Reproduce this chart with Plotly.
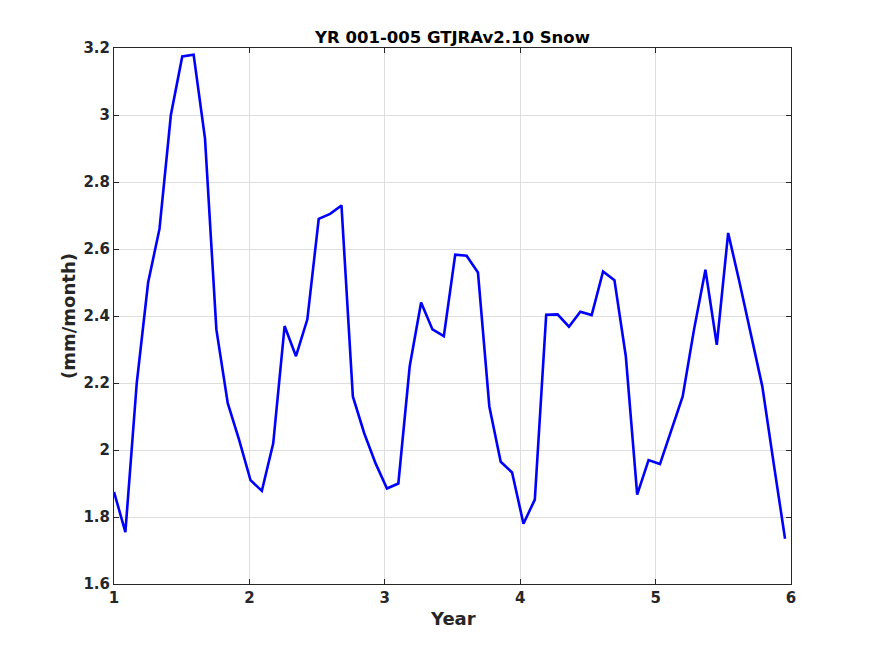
import plotly.graph_objects as go

# monthly snow for model years 1-5 (60 months)
months = list(range(60))
month_step = 0.084  # spacing in years between samples
years = [1 + m * month_step for m in months]

snow = [1.875, 1.755, 2.20, 2.50, 2.66, 3.00, 3.175, 3.18, 2.93, 2.36, 2.14, 2.03,
        1.91, 1.878, 2.02, 2.37, 2.28, 2.39, 2.69, 2.705, 2.73, 2.16, 2.05, 1.96,
        1.885, 1.90, 2.25, 2.44, 2.36, 2.34, 2.583, 2.58, 2.53, 2.13, 1.965, 1.933,
        1.78, 1.852, 2.404, 2.405, 2.368, 2.413, 2.403, 2.533, 2.507, 2.28, 1.867, 1.97,
        1.958, 2.06, 2.16, 2.36, 2.538, 2.314, 2.648, 2.50, 2.35, 2.19, 1.96, 1.735]

xticks = [1, 2, 3, 4, 5, 6]
xtick_text = ['1', '2', '3', '4', '5', '6']
yticks = [1.6, 1.8, 2.0, 2.2, 2.4, 2.6, 2.8, 3.0, 3.2]
ytick_text = ['1.6', '1.8', '2', '2.2', '2.4', '2.6', '2.8', '3', '3.2']

font_name = 'DejaVu Sans'
ink = '#262626'

fig = go.Figure()
fig.add_trace(go.Scatter(x=years, y=snow, mode='lines',
                         line=dict(color='#0000ff', width=2.6),
                         showlegend=False))

axis_style = dict(showline=True, linecolor=ink, linewidth=1, mirror='ticks',
                  ticks='inside', ticklen=5, tickcolor=ink, tickwidth=1,
                  showgrid=True, gridcolor='#dedede', gridwidth=1,
                  zeroline=False,
                  tickfont=dict(family=font_name, size=15, color=ink, weight='bold'))

fig.update_xaxes(range=[1, 6], tickvals=xticks, ticktext=xtick_text, **axis_style)
fig.update_yaxes(range=[1.6, 3.2], tickvals=yticks, ticktext=ytick_text, **axis_style)

# the page body adds an 8px offset, so margins are shifted to compensate
fig.update_layout(
    width=875, height=656,
    margin=dict(l=106, r=92, t=40, b=80),
    paper_bgcolor='white', plot_bgcolor='white',
    title=dict(text='<b>YR 001-005 GTJRAv2.10 Snow</b>',
               x=0.5, xref='paper', xanchor='center',
               y=1 - 29 / 656, yref='container', yanchor='middle',
               font=dict(family=font_name, size=16.5, color='black')),
    annotations=[
        dict(text='<b>Year</b>', x=0.5, y=-0.064, xref='paper', yref='paper',
             xanchor='center', yanchor='middle', showarrow=False,
             font=dict(family=font_name, size=18, color=ink)),
        dict(text='<b>(mm/month)</b>', x=-0.068, y=0.5, xref='paper', yref='paper',
             xanchor='center', yanchor='middle', showarrow=False, textangle=-90,
             font=dict(family=font_name, size=18, color=ink)),
    ],
)

fig.write_html("out.html")
